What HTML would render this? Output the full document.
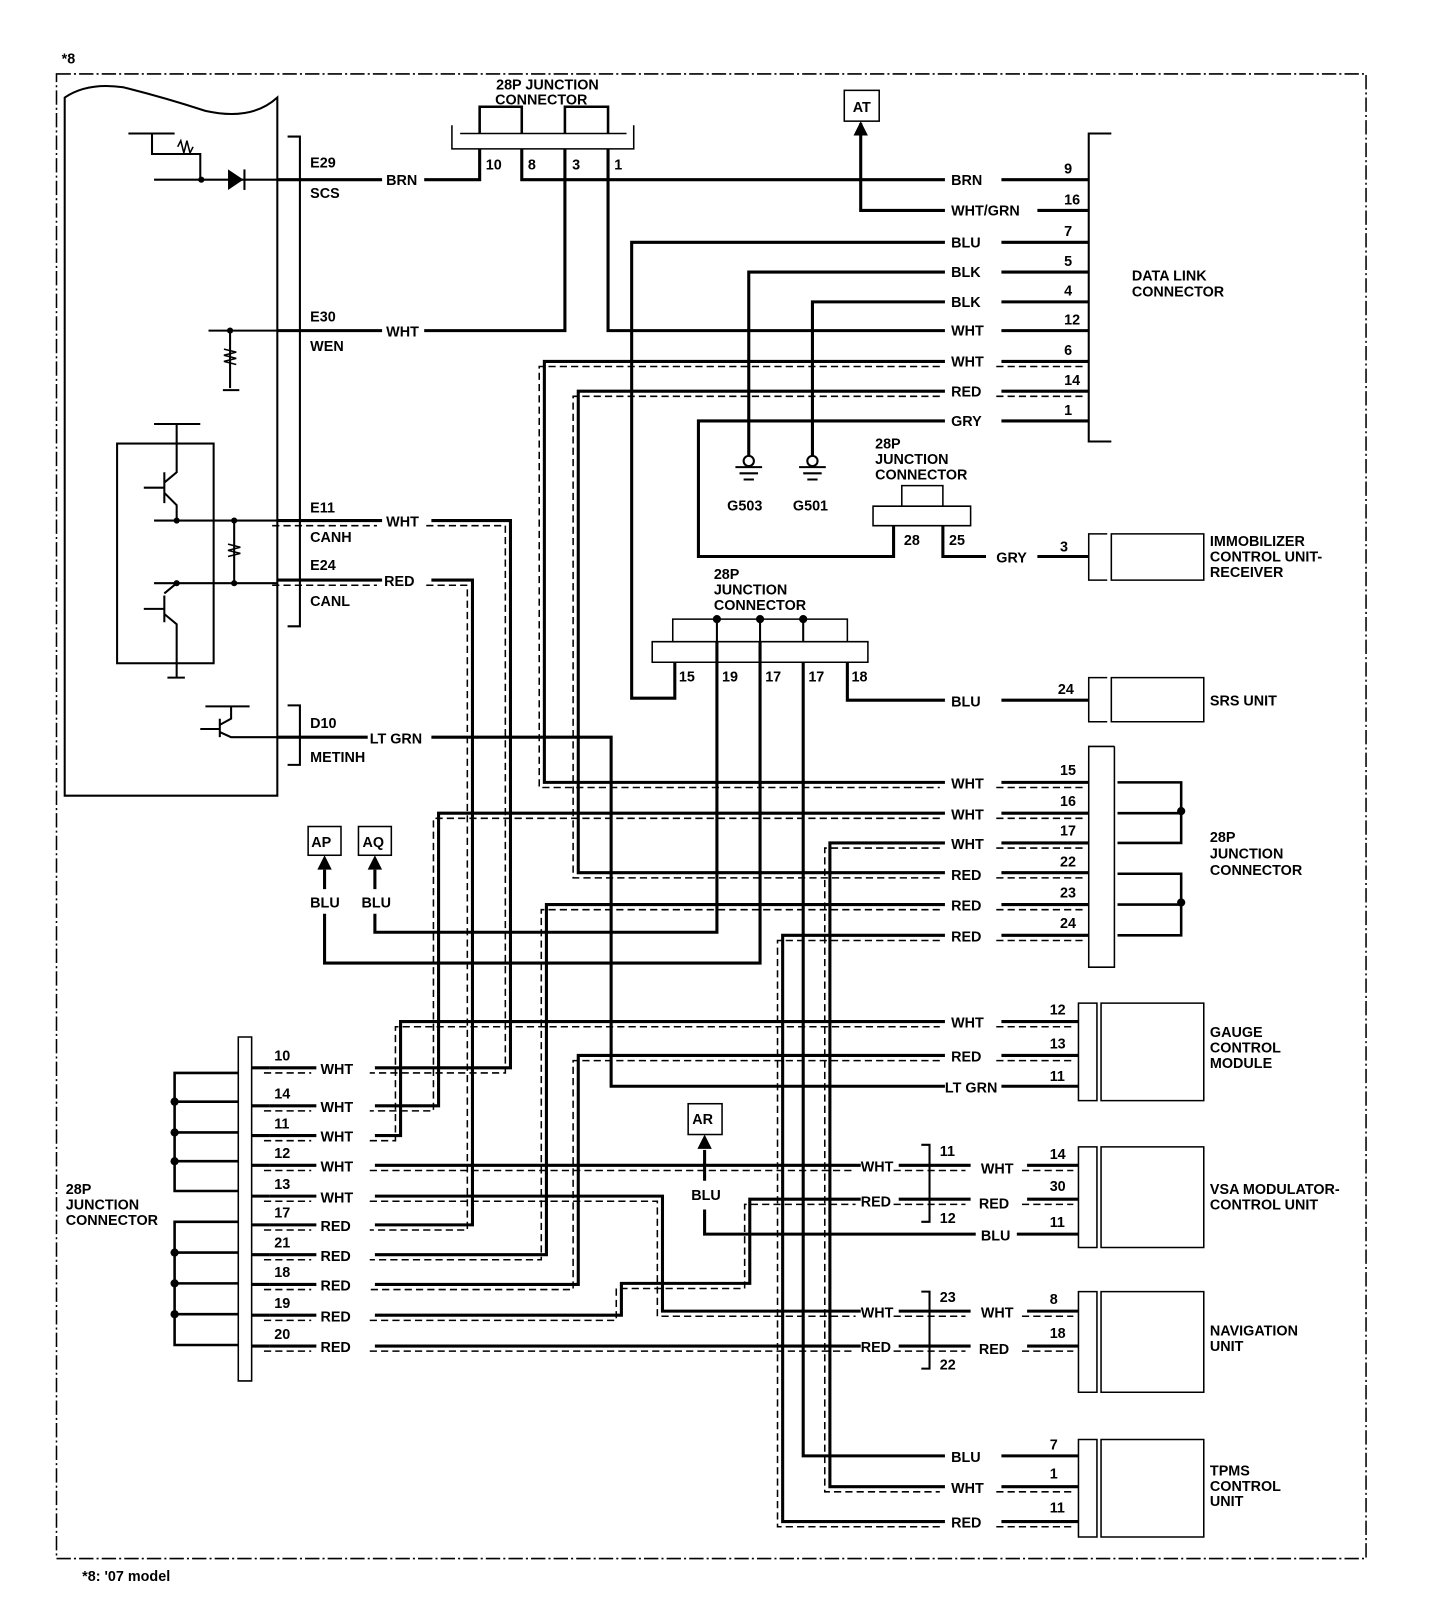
<!DOCTYPE html>
<html><head><meta charset="utf-8"><style>
html,body{margin:0;padding:0;background:#fff}
svg{display:block}
text{font-family:"Liberation Sans",sans-serif;font-weight:bold;font-size:14px;fill:#000}
</style></head><body>
<svg id="s" width="1440" height="1614" viewBox="0 0 1402 1572" preserveAspectRatio="none" xmlns="http://www.w3.org/2000/svg">
<rect width="1402" height="1572" fill="#fff"/>
<g fill="none" stroke="#000">
<rect x="55" y="72" width="1275" height="1446" stroke-width="1.5" stroke-dasharray="14,3,2,3"/>
<path d="M63,775 V95 Q85,80 120,85 Q160,95 200,108 Q245,118 270,95 V775 Z" stroke-width="2"/>
<path d="M280,133 H292 V610 H280 M280,687 H292 V745 H280" stroke-width="2"/>
<path d="M125,130 H170 M148,130 V150 H195 V175 M150,175 H270 M204,175 V175" stroke-width="2"/>
<path d="M173,143 l3,-6 l3,12 l3,-12 l3,12 l3,-6" stroke-width="1.5"/>
<polygon points="222,165 222,185 237,175" fill="#000" stroke="none"/>
<path d="M238,165 V185" stroke-width="2"/>
<path d="M203,322 H270 M224,322 V378 M217,380 H233" stroke-width="2"/>
<path d="M218,340 l12,3 l-12,3 l12,3 l-12,3 l12,3" stroke-width="1.5"/>
<rect x="114" y="432" width="94" height="214" stroke-width="2"/>
<path d="M150,413 H195 M172,413 V460 L160,470 M160,460 V490 M140,475 H160 M160,480 L172,492 V507 M150,507 H270 M228,507 V568 M150,568 H270 M172,568 L160,578 M160,580 V606 M140,593 H160 M160,598 L172,608 V660 M163,660 H180" stroke-width="2"/>
<path d="M222,530 l12,3 l-12,3 l12,3 l-12,3" stroke-width="1.5"/>
<path d="M200,688 H243 M225,688 V700 L214,706 M214,700 V718 M195,710 H214 M214,713 L225,718 H270" stroke-width="2"/>
<path d="M440,122 V145 H617 V122 M448,130 H610" stroke-width="1.5"/>
<path d="M467,130 V104 H508 V130 M550,130 V104 H592 V130" stroke-width="2.5"/>
<rect x="822" y="88" width="34" height="30" stroke-width="1.5"/>
<path d="M1082,130 H1060 V430 H1082" stroke-width="2"/>
<path d="M878,493 V473 H918 V493 M850,493 H945 V512 H850 Z" stroke-width="1.5"/>
<path d="M1078,520 H1060 V565 H1078 M1082,520 H1172 V565 H1082 Z" stroke-width="1.5"/>
<path d="M1078,660 H1060 V703 H1078 M1082,660 H1172 V703 H1082 Z" stroke-width="1.5"/>
<path d="M655,625 V603 H825 V625 M635,625 H845 V645 H635 Z" stroke-width="1.5"/>
<path d="M698,603 V625 M740,603 V625 M782,603 V625" stroke-width="2"/>
<path d="M1085,727 H1060 V942 H1085 V727" stroke-width="1.5"/>
<path d="M1088,762 H1150 V821 H1088 M1088,792 H1150 M1088,851 H1150 V911 H1088 M1088,881 H1150" stroke-width="2.5"/>
<path d="M232,1010 H245 V1345 H232 Z" stroke-width="1.5"/>
<path d="M232,1045 H170 V1160 H232 M170,1073 H232 M170,1103 H232 M170,1131 H232 M232,1190 H170 V1310 H232 M170,1220 H232 M170,1250 H232 M170,1280 H232" stroke-width="2.5"/>
<path d="M1068,977 H1050 V1072 H1068 Z M1072,977 H1172 V1072 H1072 Z" stroke-width="1.5"/>
<path d="M1068,1117 H1050 V1215 H1068 Z M1072,1117 H1172 V1215 H1072 Z" stroke-width="1.5"/>
<path d="M1068,1258 H1050 V1356 H1068 Z M1072,1258 H1172 V1356 H1072 Z" stroke-width="1.5"/>
<path d="M1068,1402 H1050 V1497 H1068 Z M1072,1402 H1172 V1497 H1072 Z" stroke-width="1.5"/>
<path d="M897,1115 H905 V1190 H897 M897,1258 H905 V1333 H897" stroke-width="2"/>
<rect x="300" y="805" width="32" height="28" stroke-width="1.5"/>
<rect x="349" y="805" width="32" height="28" stroke-width="1.5"/>
<rect x="670" y="1075" width="33" height="30" stroke-width="1.5"/>
<path d="M716,455 H742 M720,461 H738 M724,467 H734 M778,455 H804 M782,461 H800 M786,467 H796" stroke-width="2"/>
<circle cx="729" cy="449" r="5" stroke-width="2"/><circle cx="791" cy="449" r="5" stroke-width="2"/>
</g>
<g id="w" fill="none" stroke="#000"></g>
<g fill="#000">
<polygon points="838,118 831,132 845,132"/><polygon points="316,833 309,847 323,847"/><polygon points="365,833 358,847 372,847"/><polygon points="686,1105 679,1119 693,1119"/>
<circle cx="170" cy="1073" r="4"/><circle cx="170" cy="1103" r="4"/><circle cx="170" cy="1131" r="4"/><circle cx="170" cy="1220" r="4"/><circle cx="170" cy="1250" r="4"/><circle cx="170" cy="1280" r="4"/>
<circle cx="1150" cy="790" r="4"/><circle cx="1150" cy="879" r="4"/><circle cx="698" cy="603" r="4"/><circle cx="740" cy="603" r="4"/><circle cx="782" cy="603" r="4"/>
<circle cx="196" cy="175" r="3"/><circle cx="224" cy="322" r="3"/><circle cx="228" cy="507" r="3"/><circle cx="228" cy="568" r="3"/><circle cx="172" cy="507" r="3"/><circle cx="172" cy="568" r="3"/>
</g>
<g id="t"></g>
</svg>
<script>
var W=document.getElementById('w'),T=document.getElementById('t'),NS='http://www.w3.org/2000/svg';
function pl(p,dx,dy,sw,da){var e=document.createElementNS(NS,'polyline');var s='';for(var i=0;i<p.length;i+=2)s+=(p[i]+dx)+','+(p[i+1]+dy)+' ';e.setAttribute('points',s);e.setAttribute('stroke-width',sw);if(da)e.setAttribute('stroke-dasharray',da);W.appendChild(e);}
function s(p){pl(p,0,0,3)}
function d(p){pl(p,0,0,3);pl(p,-5,5,1.5,'7,4')}
function t(x,y,str,a){var e=document.createElementNS(NS,'text');e.setAttribute('x',x);e.setAttribute('y',y);if(a)e.setAttribute('text-anchor',a);e.textContent=str;T.appendChild(e);}
s([270,175,372,175]);s([413,175,467,175,467,145]);s([508,145,508,175,920,175]);s([975,175,1060,175]);
s([413,322,550,322,550,145]);s([270,322,372,322]);s([592,145,592,322,920,322]);s([975,322,1060,322]);
s([838,120,838,205,920,205]);s([1010,205,1060,205]);
s([920,236,615,236,615,680,657,680,657,645]);s([975,236,1060,236]);
s([920,265,729,265,729,444]);s([975,265,1060,265]);
s([920,294,791,294,791,444]);s([975,294,1060,294]);
d([920,352,530,352,530,762,920,762]);d([975,352,1060,352]);d([975,762,1060,762]);
d([920,381,563,381,563,850,920,850]);d([975,381,1060,381]);d([975,850,1060,850]);
s([920,410,680,410,680,542,870,542,870,512]);s([975,410,1060,410]);
s([918,512,918,542,960,542]);s([1010,542,1060,542]);
s([825,645,825,682,920,682]);s([975,682,1060,682]);
d([270,507,372,507]);d([420,507,497,507,497,1040,365,1040]);
d([270,565,372,565]);d([420,565,460,565,460,1193,365,1193]);
s([270,718,358,718]);s([420,718,595,718,595,1058,920,1058]);s([975,1058,1050,1058]);
s([698,625,698,908,365,908,365,890]);s([740,625,740,938,316,938,316,890]);
s([316,847,316,866]);s([365,847,365,866]);
s([782,645,782,1418,920,1418]);s([975,1418,1050,1418]);
d([920,792,427,792,427,1077,365,1077]);d([975,792,1060,792]);
d([920,821,808,821,808,1448,920,1448]);d([975,821,1060,821]);d([975,1448,1050,1448]);
d([920,881,532,881,532,1222,365,1222]);d([975,881,1060,881]);
d([920,911,762,911,762,1482,920,1482]);d([975,911,1060,911]);d([975,1482,1050,1482]);
d([365,1106,390,1106,390,995,920,995]);d([975,995,1050,995]);
d([920,1028,563,1028,563,1251,365,1251]);d([975,1028,1050,1028]);
d([365,1135,838,1135]);d([875,1135,945,1135]);d([1000,1135,1050,1135]);
d([365,1165,645,1165,645,1277,838,1277]);d([875,1277,945,1277]);d([1000,1277,1050,1277]);
d([365,1281,605,1281,605,1250,730,1250,730,1168,838,1168]);d([875,1168,945,1168]);d([1000,1168,1050,1168]);
d([365,1311,838,1311]);d([875,1311,945,1311]);d([1000,1311,1050,1311]);
s([686,1120,686,1150]);s([686,1178,686,1202,950,1202]);s([990,1202,1050,1202]);
[1040,1077,1106,1135,1165,1193,1222,1251,1281,1311].forEach(function(y){d([262,y,308,y]);s([245,y,262,y]);});
t(60,62,'*8');t(80,1540,"*8: '07 model");
t(533,87,'28P JUNCTION','middle');t(527,102,'CONNECTOR','middle');
t(473,165,'10');t(514,165,'8');t(557,165,'3');t(598,165,'1');
t(839,109,'AT','middle');
t(302,163,'E29');t(302,193,'SCS');t(376,180,'BRN');t(302,313,'E30');t(302,342,'WEN');t(376,328,'WHT');
t(302,499,'E11');t(302,528,'CANH');t(376,513,'WHT');t(302,555,'E24');t(302,590,'CANL');t(374,571,'RED');
t(302,709,'D10');t(302,742,'METINH');t(360,724,'LT GRN');
var R=[[175,'BRN','9'],[205,'WHT/GRN','16'],[236,'BLU','7'],[265,'BLK','5'],[294,'BLK','4'],[322,'WHT','12'],[352,'WHT','6'],[381,'RED','14'],[410,'GRY','1']];
R.forEach(function(r){t(926,r[0]+5,r[1]);t(1036,r[0]-6,r[2])});
t(1102,273,'DATA LINK');t(1102,289,'CONNECTOR');
t(708,497,'G503');t(772,497,'G501');
t(852,437,'28P');t(852,452,'JUNCTION');t(852,467,'CONNECTOR');
t(880,531,'28');t(924,531,'25');t(970,548,'GRY');t(1032,537,'3');
t(1178,532,'IMMOBILIZER');t(1178,547,'CONTROL UNIT-');t(1178,562,'RECEIVER');
t(695,564,'28P');t(695,579,'JUNCTION');t(695,594,'CONNECTOR');
t(661,664,'15');t(703,664,'19');t(745,664,'17');t(787,664,'17');t(829,664,'18');
t(926,688,'BLU');t(1030,676,'24');t(1178,687,'SRS UNIT');
var J=[[762,'WHT','15'],[792,'WHT','16'],[821,'WHT','17'],[851,'RED','22'],[881,'RED','23'],[911,'RED','24']];
J.forEach(function(r){t(926,r[0]+6,r[1]);t(1032,r[0]-7,r[2])});
t(1178,820,'28P');t(1178,836,'JUNCTION');t(1178,852,'CONNECTOR');
t(303,825,'AP');t(353,825,'AQ');t(302,884,'BLU');t(352,884,'BLU');t(674,1095,'AR');t(673,1169,'BLU');
var L=[[1040,'10','WHT'],[1077,'14','WHT'],[1106,'11','WHT'],[1135,'12','WHT'],[1165,'13','WHT'],[1193,'17','RED'],[1222,'21','RED'],[1251,'18','RED'],[1281,'19','RED'],[1311,'20','RED']];
L.forEach(function(r){t(267,r[0]-7,r[1]);t(312,r[0]+6,r[2])});
t(64,1163,'28P');t(64,1178,'JUNCTION');t(64,1193,'CONNECTOR');
t(926,1001,'WHT');t(1022,988,'12');t(926,1034,'RED');t(1022,1021,'13');t(920,1064,'LT GRN');t(1022,1053,'11');
t(1178,1010,'GAUGE');t(1178,1025,'CONTROL');t(1178,1040,'MODULE');
t(838,1141,'WHT');t(838,1175,'RED');t(955,1143,'WHT');t(953,1177,'RED');t(955,1208,'BLU');
t(915,1126,'11');t(915,1191,'12');t(1022,1129,'14');t(1022,1160,'30');t(1022,1195,'11');
t(1178,1163,'VSA MODULATOR-');t(1178,1178,'CONTROL UNIT');
t(838,1283,'WHT');t(838,1317,'RED');t(955,1283,'WHT');t(953,1319,'RED');
t(915,1268,'23');t(915,1334,'22');t(1022,1270,'8');t(1022,1303,'18');
t(1178,1301,'NAVIGATION');t(1178,1316,'UNIT');
t(926,1424,'BLU');t(926,1454,'WHT');t(926,1488,'RED');t(1022,1412,'7');t(1022,1440,'1');t(1022,1473,'11');
t(1178,1437,'TPMS');t(1178,1452,'CONTROL');t(1178,1467,'UNIT');
</script>
</body></html>
